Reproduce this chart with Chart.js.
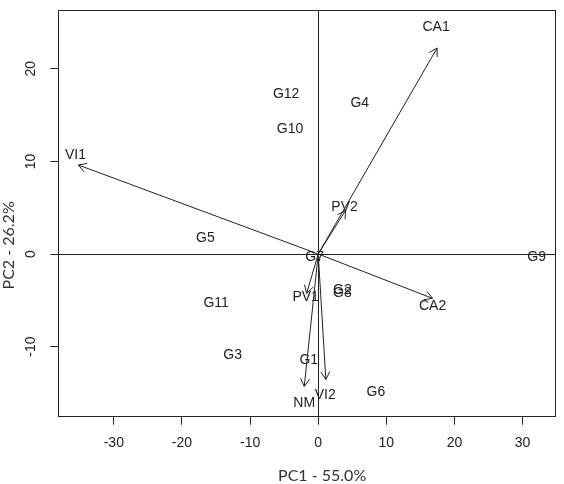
<!DOCTYPE html>
<html><head><meta charset="utf-8">
<script src="https://cdn.jsdelivr.net/npm/chart.js@4.4.1/dist/chart.umd.min.js"></script>
<style>html,body{margin:0;padding:0;background:#fff}</style>
</head><body>
<div style="width:564px;height:484px"><canvas id="c" width="564" height="484"></canvas></div>
<script>
// Observations (genotypes)
const obsLabels = ['G1','G2','G3','G4','G5','G6','G7','G8','G9','G10','G11','G12'];
const obsX = [-1.39, 3.55, -12.56, 6.09, -16.57, 8.46, -0.53, 3.55, 32.06, -4.13, -14.98, -4.71];
const obsY = [-11.45, -3.92, -10.87, 16.27, 1.73, -14.97, -0.36, -4.25, -0.29, 13.46, -5.26, 17.28];
// Variable loadings (arrows)
const varLabels = ['CA1','CA2','PV1','PV2','VI1','VI2','NM'];
const arrowX = [17.45, 16.78, -1.70, 4.0, -35.2, 1.12, -2.05];
const arrowY = [22.25, -4.79, -4.25, 4.7, 9.61, -13.55, -14.3];
const varLabelX = [17.3, 16.78, -1.85, 3.87, -35.63, 1.03, -2.05];
const varLabelY = [24.55, -5.62, -4.70, 5.11, 10.66, -15.19, -16.07];
// Axes
const xTicks = [-30, -20, -10, 0, 10, 20, 30];
const yTicks = [-10, 0, 10, 20];
const xTitle = 'PC1 - 55.0%';
const yTitle = 'PC2 - 26.2%';

const INK = '#222';
const datasets = [{
  label: 'Genotypes',
  data: obsX.map((x, i) => ({x, y: obsY[i]})),
  pointRadius: 0, showLine: false
}];
varLabels.forEach((lab, i) => {
  datasets.push({
    label: lab,
    data: [{x: 0, y: 0}, {x: arrowX[i], y: arrowY[i]}],
    showLine: true, borderColor: INK, borderWidth: 1, pointRadius: 0, fill: false
  });
});

const biplotPlugin = {
  id: 'biplot',
  beforeDatasetsDraw(chart) {
    const {ctx, chartArea: a, scales: {x, y}} = chart;
    ctx.save();
    ctx.strokeStyle = INK; ctx.lineWidth = 1;
    const x0 = Math.round(x.getPixelForValue(0)) + 0.5;
    const y0 = Math.round(y.getPixelForValue(0)) + 0.5;
    ctx.beginPath();
    ctx.moveTo(x0, a.top); ctx.lineTo(x0, a.bottom);
    ctx.moveTo(a.left, y0); ctx.lineTo(a.right, y0);
    ctx.stroke();
    ctx.restore();
  },
  afterDatasetsDraw(chart) {
    const {ctx, chartArea: a, scales: {x, y}} = chart;
    ctx.save();
    // arrowheads
    ctx.strokeStyle = INK; ctx.lineWidth = 1;
    const ox = x.getPixelForValue(0), oy = y.getPixelForValue(0);
    for (let i = 0; i < varLabels.length; i++) {
      const tx = x.getPixelForValue(arrowX[i]), ty = y.getPixelForValue(arrowY[i]);
      const ang = Math.atan2(ty - oy, tx - ox);
      const L = 9, h = Math.PI / 6;
      ctx.beginPath();
      ctx.moveTo(tx - L * Math.cos(ang - h), ty - L * Math.sin(ang - h));
      ctx.lineTo(tx, ty);
      ctx.lineTo(tx - L * Math.cos(ang + h), ty - L * Math.sin(ang + h));
      ctx.stroke();
    }
    // text labels
    ctx.fillStyle = INK;
    ctx.font = '14px "Liberation Sans", Arial, sans-serif';
    ctx.textAlign = 'center'; ctx.textBaseline = 'middle';
    obsLabels.forEach((lab, i) => {
      ctx.fillText(lab, x.getPixelForValue(obsX[i]), y.getPixelForValue(obsY[i]));
    });
    varLabels.forEach((lab, i) => {
      ctx.fillText(lab, x.getPixelForValue(varLabelX[i]), y.getPixelForValue(varLabelY[i]));
    });
    // box
    ctx.strokeStyle = INK;
    const x1 = Math.round(a.left) + 0.5, y1 = Math.round(a.top) + 0.5;
    const x2 = Math.round(a.right) - 0.5, y2 = Math.round(a.bottom) - 0.5;
    ctx.strokeRect(x1, y1, x2 - x1, y2 - y1);
    // axis titles
    ctx.fillStyle = '#333';
    ctx.font = '16px Lato, "Open Sans", sans-serif';
    ctx.fillText(xTitle, (a.left + a.right) / 2 + 15, 475.5);
    ctx.translate(9, (a.top + a.bottom) / 2 + 32);
    ctx.rotate(-Math.PI / 2);
    ctx.fillText(yTitle, 0, 0);
    ctx.restore();
  }
};

new Chart(document.getElementById('c'), {
  type: 'scatter',
  data: {datasets},
  options: {
    responsive: false, animation: false, devicePixelRatio: 1,
    layout: {padding: {top: 10, right: 8, left: 0, bottom: 0}},
    plugins: {legend: {display: false}, tooltip: {enabled: false}, title: {display: false}},
    scales: {
      x: {
        type: 'linear', min: -38.15, max: 34.9,
        afterBuildTicks: s => { s.ticks = xTicks.map(v => ({value: v})); },
        afterFit: s => { s.height = 67.3; s.paddingLeft = 0; s.paddingRight = 0; },
        grid: {drawOnChartArea: false, drawTicks: true, tickLength: 8, color: INK, lineWidth: 1},
        border: {display: false},
        ticks: {color: INK, font: {family: '"Liberation Sans", Arial, sans-serif', size: 14},
                padding: 10, maxRotation: 0, minRotation: 0, autoSkip: false}
      },
      y: {
        type: 'linear', min: -17.57, max: 26.35,
        afterBuildTicks: s => { s.ticks = yTicks.map(v => ({value: v})); },
        afterFit: s => { s.width = 58.3; s.paddingTop = 0; s.paddingBottom = 0; },
        grid: {drawOnChartArea: false, drawTicks: true, tickLength: 8, color: INK, lineWidth: 1},
        border: {display: false},
        ticks: {color: INK, font: {family: '"Liberation Sans", Arial, sans-serif', size: 14},
                padding: 9, minRotation: 90, maxRotation: 90, crossAlign: 'center', autoSkip: false}
      }
    }
  },
  plugins: [biplotPlugin]
});
</script>
</body></html>
